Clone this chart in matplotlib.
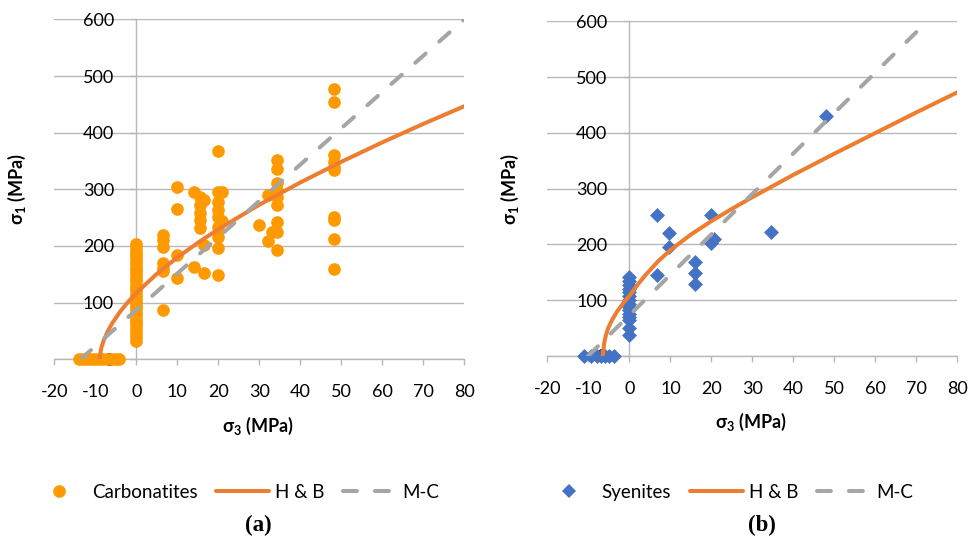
import matplotlib
matplotlib.use('Agg')
import matplotlib.pyplot as plt
from matplotlib.lines import Line2D

plt.rcParams['font.family'] = ['Lato', 'Open Sans', 'DejaVu Sans']
plt.rcParams['mathtext.fontset'] = 'custom'
plt.rcParams['mathtext.rm'] = 'Lato'
plt.rcParams['mathtext.bf'] = 'Lato:bold'
plt.rcParams['lines.scale_dashes'] = False
plt.rcParams['axes.unicode_minus'] = False

# ---------------- data (a) Carbonatites ----------------
carb_x = ([-14.0, -13.0, -12.0, -11.0, -10.0, -9.0, -8.0, -7.0, -6.0, -5.0, -4.3]
          + [0] * 29
          + [6.6] * 7
          + [10] * 4
          + [14, 14]
          + [15.5] * 5
          + [16.5] * 3
          + [20] * 9
          + [21, 21]
          + [30]
          + [32.2, 32.2]
          + [33]
          + [34.4] * 9
          + [48.2] * 10)
carb_y = ([0] * 11
          + [33, 40, 47, 54, 60, 66, 72, 78, 84, 90, 96, 102, 108, 114, 120, 126,
             132, 138, 144, 150, 156, 162, 168, 174, 180, 186, 192, 198, 203]
          + [219, 210, 199, 170, 162, 155, 87]
          + [305, 265, 184, 143]
          + [296, 163]
          + [287, 272, 258, 246, 231]
          + [281, 202, 153]
          + [367, 296, 278, 264, 252, 234, 216, 196, 149]
          + [296, 245]
          + [237]
          + [290, 208]
          + [225]
          + [352, 336, 311, 299, 287, 273, 243, 225, 193]
          + [478, 455, 361, 349, 340, 334, 252, 246, 213, 160])

hb_a_x = [-9.0, -8.5, -8.0, -7.0, -6.0, -4.0, -2.0, 0, 5, 10, 15, 20, 30, 40, 50, 60, 70, 80]
hb_a_y = [1.3, 20.8, 32.2, 48.9, 62.1, 83.5, 101.3, 117, 150.7, 179.7, 205.6, 229.5,
          272.8, 312.1, 348.6, 382.9, 415.5, 446.7]
mc_a_x = [-13.6, 80]
mc_a_y = [0, 600]

# ---------------- data (b) Syenites ----------------
sy_x = ([-11.0, -9.5, -8.0, -7.0, -6.0, -5.0, -3.7]
        + [0] * 15
        + [6.6, 6.6]
        + [9.7, 9.7]
        + [16, 16, 16]
        + [20, 20.5, 20]
        + [34.4]
        + [47.9])
sy_y = ([0] * 7
        + [142, 135, 128, 121, 114, 107, 100, 94, 88, 82, 76, 70, 64, 50, 38]
        + [253, 145]
        + [220, 196]
        + [169, 148, 129]
        + [253, 210, 203]
        + [222]
        + [430])

hb_b_x = [-6.5, -6.2, -5.8, -5.2, -4.3, -3, -1.5, 0, 2, 4, 7, 10, 15, 20, 25, 30, 40, 50, 60, 70, 80]
hb_b_y = [0, 22, 36, 50, 64, 80, 95, 108, 128, 146, 170, 190, 218, 242, 264, 285, 325, 363, 400, 437, 473]
mc_b_x = [-10.1, 72.6]
mc_b_y = [0, 600]

x_ticks = [-20, -10, 0, 10, 20, 30, 40, 50, 60, 70, 80]
y_ticks = [0, 100, 200, 300, 400, 500, 600]

ORANGE_PT = '#FF9900'
ORANGE_LN = '#ED7D31'
GRAY = '#A5A5A5'
BLUE = '#4472C4'
GRID = '#B8B8B8'
FS = 13

fig = plt.figure(figsize=(9.78, 5.42), dpi=100)
ax1 = fig.add_axes([0.0555, 0.3371, 0.4192, 0.6271])
ax2 = fig.add_axes([0.5598, 0.3432, 0.4192, 0.6172])


def style(ax):
    ax.set_xlim(-20, 80)
    ax.set_ylim(0, 600)
    ax.set_xticks(x_ticks)
    ax.set_yticks(y_ticks)
    for s in ['top', 'right']:
        ax.spines[s].set_visible(False)
    ax.spines['left'].set_position(('data', 0))
    ax.spines['bottom'].set_position(('data', 0))
    for s in ['left', 'bottom']:
        ax.spines[s].set_color(GRID)
        ax.spines[s].set_linewidth(1.0)
    ax.grid(axis='y', color=GRID, linewidth=1.0)
    ax.set_axisbelow(True)
    ax.tick_params(axis='both', direction='out', length=4, width=1.0, color=GRID,
                   labelsize=FS, labelcolor='black')
    ax.tick_params(axis='x', pad=14)
    ax.tick_params(axis='y', pad=12)
    ax.set_xlabel(r'σ$_\mathbf{3}$ (MPa)', fontsize=FS, fontweight='bold')
    ax.set_ylabel(r'σ$_\mathbf{1}$ (MPa)', fontsize=FS, fontweight='bold')
    ax.xaxis.set_label_coords(0.497, -0.165)
    ax.yaxis.set_label_coords(-0.064, 0.5)


style(ax1)
style(ax2)

lw = 2.9
dash = (10, 13)

ax1.scatter(carb_x, carb_y, s=83, color=ORANGE_PT, linewidths=0, zorder=3, clip_on=False)
ax1.plot(hb_a_x, hb_a_y, color=ORANGE_LN, lw=lw, solid_capstyle='round', zorder=4)
ax1.plot(mc_a_x, mc_a_y, color=GRAY, lw=lw, dashes=dash, dash_capstyle='round', zorder=5)

ax2.scatter(sy_x, sy_y, s=58, marker='D', color=BLUE, linewidths=0, zorder=3, clip_on=False)
ax2.plot(hb_b_x, hb_b_y, color=ORANGE_LN, lw=lw, solid_capstyle='round', zorder=4)
ax2.plot(mc_b_x, mc_b_y, color=GRAY, lw=lw, dashes=dash, dash_capstyle='round', zorder=5)


def legend(label, marker, mcolor, ms, cx):
    h = [Line2D([], [], ls='none', marker=marker, markersize=ms, markerfacecolor=mcolor,
                markeredgewidth=0),
         Line2D([], [], color=ORANGE_LN, lw=lw, solid_capstyle='round'),
         Line2D([], [], color=GRAY, lw=lw, dashes=dash, dash_capstyle='round')]
    fig.legend(h, [label, 'H & B', 'M-C'], loc='center', bbox_to_anchor=(cx, 0.092),
               ncol=3, frameon=False, fontsize=13.5, handlelength=2.8, handletextpad=0.35,
               columnspacing=1.0, borderpad=0, borderaxespad=0)


legend('Carbonatites', 'o', ORANGE_PT, 9.1, 236 / 978)
legend('Syenites', 'D', BLUE, 7.6, 728 / 978)

fig.text(258 / 978, 1 - 525 / 542, '(a)', ha='center', va='center', fontsize=16.5,
         fontweight='bold', family='Liberation Serif')
fig.text(762 / 978, 1 - 525 / 542, '(b)', ha='center', va='center', fontsize=16.5,
         fontweight='bold', family='Liberation Serif')

fig.savefig('out.png', dpi=100)
